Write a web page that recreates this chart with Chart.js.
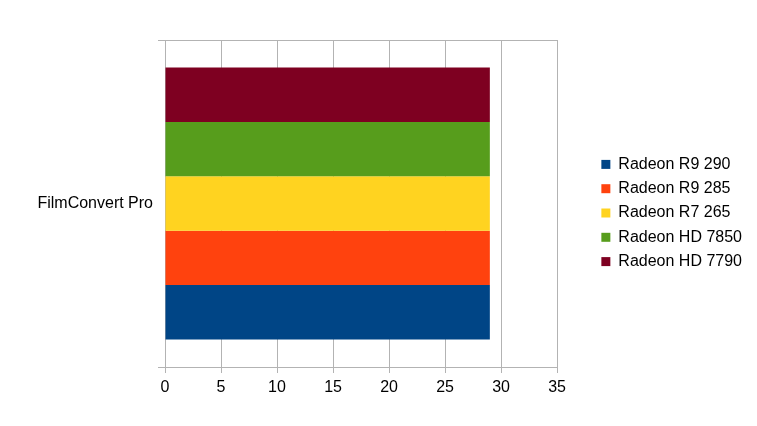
<!DOCTYPE html>
<html>
<head>
<meta charset="utf-8">
<script src="https://cdn.jsdelivr.net/npm/chart.js@4"></script>
<style>
  html, body { margin: 0; padding: 0; background: #fff; }
  #wrap { width: 757px; height: 426px; }
</style>
</head>
<body>
<div id="wrap"><canvas id="barChart" width="757" height="426"></canvas></div>
<script>
const categories = ['FilmConvert Pro'];
// listed top bar first
const seriesNames = ['Radeon HD 7790', 'Radeon HD 7850', 'Radeon R7 265', 'Radeon R9 285', 'Radeon R9 290'];
const seriesValues = [[29], [29], [29], [29], [29]];
const seriesColors = ['#7e0021', '#579d1c', '#ffd320', '#ff420e', '#004586'];
const xTicks = [0, 5, 10, 15, 20, 25, 30, 35];

const gridColor = '#b3b3b3';
const font = { family: '"Liberation Sans", Arial, sans-serif', size: 16 };

const datasets = seriesNames.map((name, i) => ({
  label: name,
  data: seriesValues[i],
  backgroundColor: seriesColors[i],
  borderWidth: 0,
  categoryPercentage: 0.832,
  barPercentage: 1.0,
}));

const ctx = document.getElementById('barChart');
const myChart = new Chart(ctx, {
  type: 'bar',
  data: { labels: categories, datasets: datasets },
  options: {
    indexAxis: 'y',
    responsive: false,
    animation: false,
    layout: { padding: { left: 0, right: 5, top: 0, bottom: 0 } },
    plugins: {
      tooltip: { enabled: false },
      legend: {
        position: 'right',
        reverse: true,
        maxWidth: 220,
        labels: {
          boxWidth: 9,
          boxHeight: 9,
          padding: 8.3,
          color: '#000',
          font: font,
        },
      },
    },
    scales: {
      x: {
        min: xTicks[0],
        max: xTicks[xTicks.length - 1],
        afterBuildTicks: (scale) => { scale.ticks = xTicks.map(v => ({ value: v })); },
        grid: { color: gridColor, tickLength: 6 },
        border: { color: gridColor },
        ticks: { color: '#000', font: font, padding: 5 },
        afterFit: (scale) => { scale.height = 59; },
      },
      y: {
        grid: { color: gridColor, tickLength: 7 },
        border: { color: gridColor },
        ticks: { color: '#000', font: font, padding: 5 },
        afterFit: (scale) => { scale.width = 165; },
      },
      // empty space above the plot and between plot and legend
      topSpace: {
        type: 'linear',
        axis: 'x',
        position: 'top',
        display: true,
        grid: { display: false },
        border: { display: false },
        ticks: { display: false },
        afterFit: (scale) => { scale.height = 40; },
      },
      rightSpace: {
        type: 'linear',
        axis: 'y',
        position: 'right',
        display: true,
        grid: { display: false },
        border: { display: false },
        ticks: { display: false },
        afterFit: (scale) => { scale.width = 36; },
      },
    },
  },
});
</script>
</body>
</html>
